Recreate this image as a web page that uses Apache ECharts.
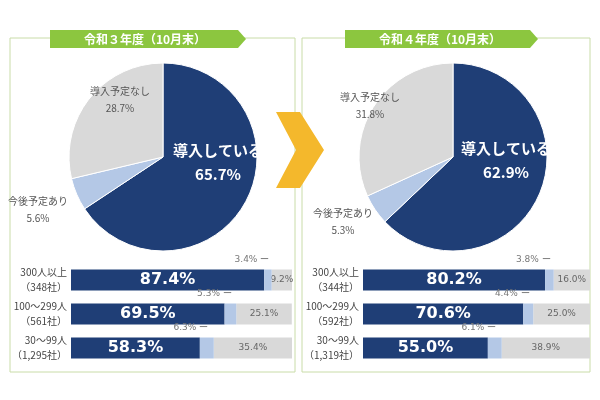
<!DOCTYPE html><html><head><meta charset="utf-8"><script src="https://cdn.jsdelivr.net/npm/echarts@6/dist/echarts.min.js"></script>
<style>body{margin:0;background:#fff}#c{width:600px;height:400px}</style></head><body><div id="c"></div><script>
const pieNames=['導入している','今後予定あり','導入予定なし'];
const pie3=[65.7,5.6,28.7];
const pie4=[62.9,5.3,31.8];
const cats3=['300人以上\n（348社）','100～299人\n（561社）','30～99人\n（1,295社）'];
const cats4=['300人以上\n（344社）','100～299人\n（592社）','30～99人\n（1,319社）'];
const intro3=[87.4,69.5,58.3], plan3=[3.4,5.3,6.3], none3=[9.2,25.1,35.4];
const intro4=[80.2,70.6,55.0], plan4=[3.8,4.4,6.1], none4=[16.0,25.0,38.9];
const titles=['令和３年度（10月末）','令和４年度（10月末）'];
const F='"Noto Sans CJK JP"';
const C=['#1f3e76','#b4c8e6','#d9d9d9'];
const chart=echarts.init(document.getElementById('c'));
function pieSeries(vals,cx,pos){
 return {type:'pie',center:[cx,157],radius:94,startAngle:90,clockwise:true,silent:true,
  itemStyle:{borderColor:'#fff',borderWidth:1},
  data:vals.map((v,i)=>({name:pieNames[i],value:v,itemStyle:{color:C[i]},
   label:i==0?{color:'#fff',fontSize:15,fontWeight:'bold',lineHeight:24}:{color:'#555',fontSize:10,lineHeight:17}})),
  label:{show:true,position:'inside',overflow:'none',width:200,fontFamily:F,formatter:p=>p.name+'\n'+p.value.toFixed(1)+'%'},
  labelLine:{show:false},
  labelLayout:p=>({x:pos[p.dataIndex][0],y:pos[p.dataIndex][1],align:'center',verticalAlign:'middle'})};
}
function grid(l,r){return {left:l,right:r,top:263,height:102};}
function bars(idx,a,b,c){
 const mk=(d,i,lab,z)=>({type:'bar',stack:'s'+idx,xAxisIndex:idx,yAxisIndex:idx,barWidth:21,silent:true,z:z,
  itemStyle:{color:C[i]},data:d,label:lab});
 return [
  mk(a,0,{show:true,position:'inside',color:'#fff',fontSize:16,fontWeight:'bold',fontFamily:'Verdana, DejaVu Sans',formatter:p=>p.value.toFixed(1)+'%'},2),
  mk(b,1,{show:true,position:'top',offset:[-16,0],color:'#777',fontSize:9,fontFamily:'DejaVu Sans',formatter:p=>p.value.toFixed(1)+'% ー'},5),
  mk(c,2,{show:true,position:'inside',color:'#666',fontSize:9,fontFamily:'DejaVu Sans',formatter:p=>p.value.toFixed(1)+'%'},2)];
}
const yA=(i,cats)=>({type:'category',gridIndex:i,data:cats,inverse:true,axisLine:{show:false},axisTick:{show:false},
  axisLabel:{color:'#444',fontSize:10,fontFamily:F,lineHeight:15,margin:4}});
const xA=i=>({type:'value',gridIndex:i,min:0,max:100,show:false});
chart.setOption({animation:false,
 grid:[grid(71,308),grid(363,10)],
 xAxis:[xA(0),xA(1)],yAxis:[yA(0,cats3),yA(1,cats4)],
 graphic:[
  {type:'rect',shape:{x:10,y:38,width:285,height:334},style:{fill:'none',stroke:'#c9dca8',lineWidth:1}},
  {type:'rect',shape:{x:302,y:38,width:288,height:334},style:{fill:'none',stroke:'#c9dca8',lineWidth:1}},
  {type:'polygon',shape:{points:[[50,30],[238,30],[246,39],[238,48],[50,48]]},style:{fill:'#8cc63f'}},
  {type:'polygon',shape:{points:[[345,30],[530,30],[538,39],[530,48],[345,48]]},style:{fill:'#8cc63f'}},
  {type:'text',x:145,y:39,style:{text:titles[0],fill:'#fff',font:'bold 12px '+F,align:'center',verticalAlign:'middle'}},
  {type:'text',x:440,y:39,style:{text:titles[1],fill:'#fff',font:'bold 12px '+F,align:'center',verticalAlign:'middle'}},
  {type:'polygon',shape:{points:[[276,112],[300,112],[324,150],[300,188],[276,188],[296,150]]},style:{fill:'#f4b82c'}}
 ],
 series:[pieSeries(pie3,163,[[218,162],[38,210],[120,100]]),
  pieSeries(pie4,453,[[506,160],[343,222],[370,106]]),
  ...bars(0,intro3,plan3,none3),...bars(1,intro4,plan4,none4)]
});
</script></body></html>
